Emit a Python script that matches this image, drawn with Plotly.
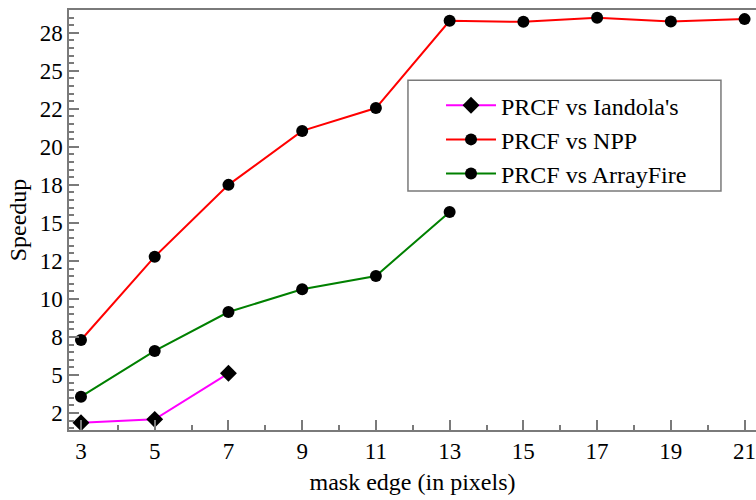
import plotly.graph_objects as go

# mask edge sizes (pixels)
mask_edge = [3, 5, 7, 9, 11, 13, 15, 17, 19, 21]

# speedup of PRCF against each implementation
speedup_iandola = [1.86, 2.08, 5.11]
speedup_npp = [7.3, 12.78, 17.5, 21.05, 22.55, 28.29, 28.22, 28.49, 28.24, 28.4]
speedup_arrayfire = [3.57, 6.58, 9.14, 10.64, 11.51, 15.72]

series_names = ["PRCF vs Iandola's", "PRCF vs NPP", "PRCF vs ArrayFire"]
series_colors = ["#ff00ff", "#ff0000", "#008000"]

x_tick_vals = [3, 5, 7, 9, 11, 13, 15, 17, 19, 21]
y_tick_vals = [2.5, 5, 7.5, 10, 12.5, 15, 17.5, 20, 22.5, 25, 27.5]
y_tick_text = ["2", "5", "8", "10", "12", "15", "18", "20", "22", "25", "28"]

FONT = "Liberation Serif, Times New Roman, serif"
AXIS_GREY = "#7a7a7a"

fig = go.Figure()

fig.add_trace(go.Scatter(
    x=mask_edge[:len(speedup_iandola)], y=speedup_iandola, name=series_names[0],
    mode="lines+markers",
    line=dict(color=series_colors[0], width=2),
    marker=dict(symbol="diamond", size=13, color="black"),
    cliponaxis=False,
))
fig.add_trace(go.Scatter(
    x=mask_edge[:len(speedup_npp)], y=speedup_npp, name=series_names[1],
    mode="lines+markers",
    line=dict(color=series_colors[1], width=2),
    marker=dict(symbol="circle", size=12, color="black"),
    cliponaxis=False,
))
fig.add_trace(go.Scatter(
    x=mask_edge[:len(speedup_arrayfire)], y=speedup_arrayfire, name=series_names[2],
    mode="lines+markers",
    line=dict(color=series_colors[2], width=2),
    marker=dict(symbol="circle", size=12, color="black"),
    cliponaxis=False,
))

# framed legend area
fig.add_shape(type="rect", xref="paper", yref="paper",
              x0=0.4934, x1=0.949, y0=0.569, y1=0.833,
              line=dict(color=AXIS_GREY, width=1.5), fillcolor="white", layer="below")

fig.update_layout(
    width=756, height=500,
    margin=dict(l=69, r=0, t=10, b=70),
    paper_bgcolor="white", plot_bgcolor="white",
    font=dict(family=FONT, size=23, color="black"),
    showlegend=True,
    legend=dict(
        x=0.5415, y=0.826, xanchor="left", yanchor="top",
        bgcolor="rgba(0,0,0,0)", borderwidth=0,
        font=dict(family=FONT, size=24, color="black"),
        itemwidth=50, tracegroupgap=0,
    ),
    xaxis=dict(
        range=[2.675, 21.31],
        tickmode="array", tickvals=x_tick_vals,
        ticks="inside", ticklen=10, tickwidth=1.5, tickcolor=AXIS_GREY,
        minor=dict(dtick=1, tick0=0, ticks="inside", ticklen=5, tickwidth=1.5, tickcolor=AXIS_GREY),
        showline=True, linecolor=AXIS_GREY, linewidth=1.5, mirror=True,
        showgrid=False, zeroline=False,
        ticklabeloverflow="allow",
        tickfont=dict(family=FONT, size=23, color="black"),
        title=dict(text="mask edge (in pixels)", font=dict(family=FONT, size=24, color="black"), standoff=10),
    ),
    yaxis=dict(
        range=[1.38, 29.0],
        tickmode="array", tickvals=y_tick_vals, ticktext=y_tick_text,
        ticks="inside", ticklen=10, tickwidth=1.5, tickcolor=AXIS_GREY,
        minor=dict(dtick=0.5, tick0=0, ticks="inside", ticklen=5, tickwidth=1.5, tickcolor=AXIS_GREY),
        showline=True, linecolor=AXIS_GREY, linewidth=1.5, mirror=False,
        showgrid=False, zeroline=False,
        tickfont=dict(family=FONT, size=23, color="black"),
        title=dict(text="Speedup", font=dict(family=FONT, size=24, color="black"), standoff=6),
    ),
)

fig.write_html("out.html")
